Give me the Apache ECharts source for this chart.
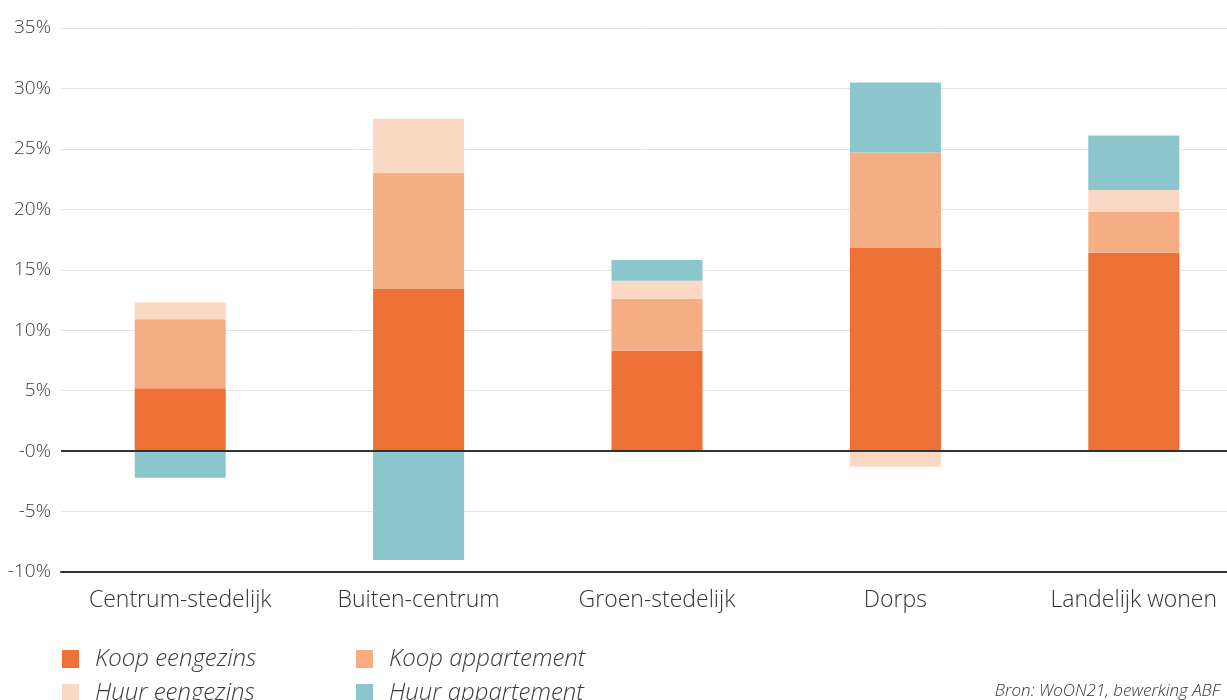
<!DOCTYPE html>
<html>
<head>
<meta charset="utf-8">
<style>
  html, body { margin: 0; padding: 0; background: #ffffff; }
  #chart { width: 1227px; height: 700px; }
</style>
<script src="https://cdn.jsdelivr.net/npm/echarts@6/dist/echarts.min.js"></script>
</head>
<body>
<div id="chart"></div>
<script>
// Woonmilieus (categories) and the share per housing type, in percent
const categories = ['Centrum-stedelijk', 'Buiten-centrum', 'Groen-stedelijk', 'Dorps', 'Landelijk wonen'];
const koopEengezins    = [5.2, 13.4, 8.3, 16.8, 16.4];
const koopAppartement  = [5.7, 9.6, 4.3, 7.9, 3.4];
const huurEengezins    = [1.4, 4.5, 1.5, -1.3, 1.8];
const huurAppartement  = [-2.2, -9.0, 1.7, 5.8, 4.5];
const seriesNames = ['Koop eengezins', 'Koop appartement', 'Huur eengezins', 'Huur appartement'];
const sourceText = 'Bron: WoON21, bewerking ABF';

const FONT = '"Open Sans"';
const colors = ['#ED7037', '#F5AD84', '#FBD8C3', '#8BC6CD'];

const chart = echarts.init(document.getElementById('chart'), null, { renderer: 'canvas' });

function barSeries(name, data, color, extra) {
  return Object.assign({
    name: name,
    type: 'bar',
    stack: 'total',
    data: data,
    barWidth: 91,
    itemStyle: { color: color },
    emphasis: { disabled: true }
  }, extra || {});
}

function legendItem(name, left, top) {
  return {
    data: [name],
    left: left,
    top: top,
    padding: 0,
    orient: 'horizontal',
    itemWidth: 17,
    itemHeight: 18,
    itemGap: 0,
    icon: 'rect',
    selectedMode: false,
    textStyle: { fontFamily: FONT, fontStyle: 'italic', fontWeight: 300, fontSize: 24, color: '#3a3a3a', padding: [0, 0, 0, 11] }
  };
}

chart.setOption({
  animation: false,
  color: colors,
  grid: { left: 61, top: 28, width: 1192, height: 544, containLabel: false, outerBoundsMode: 'none' },
  title: {
    text: sourceText,
    right: 7,
    top: 683,
    padding: 0,
    textStyle: { fontFamily: FONT, fontStyle: 'italic', fontWeight: 300, fontSize: 17, color: '#333' }
  },
  legend: [
    legendItem(seriesNames[0], 62, 647),
    legendItem(seriesNames[1], 356, 647),
    legendItem(seriesNames[2], 62, 681),
    legendItem(seriesNames[3], 356, 681)
  ],
  xAxis: {
    type: 'category',
    data: categories,
    axisLine: { onZero: false, lineStyle: { color: '#333', width: 2 } },
    axisTick: { show: false },
    axisLabel: { margin: 17, fontFamily: FONT, fontWeight: 300, fontSize: 23, color: '#333' },
    splitLine: { show: false }
  },
  yAxis: {
    type: 'value',
    min: -10,
    max: 35,
    interval: 5,
    axisLine: { show: false },
    axisTick: { show: false },
    axisLabel: {
      margin: 10,
      fontFamily: FONT,
      fontWeight: 300,
      fontSize: 19,
      color: '#3a3a3a',
      formatter: function (v) { return (v === 0 ? '-0' : v) + '%'; }
    },
    splitLine: { lineStyle: { color: '#e4e4e4', width: 1 } }
  },
  series: [
    barSeries(seriesNames[0], koopEengezins, colors[0], {
      markLine: {
        silent: true,
        symbol: 'none',
        label: { show: false },
        lineStyle: { color: '#333', type: 'solid', width: 2 },
        data: [{ yAxis: 0 }],
        z: 10
      }
    }),
    barSeries(seriesNames[1], koopAppartement, colors[1]),
    barSeries(seriesNames[2], huurEengezins, colors[2]),
    barSeries(seriesNames[3], huurAppartement, colors[3])
  ]
});
</script>
</body>
</html>
